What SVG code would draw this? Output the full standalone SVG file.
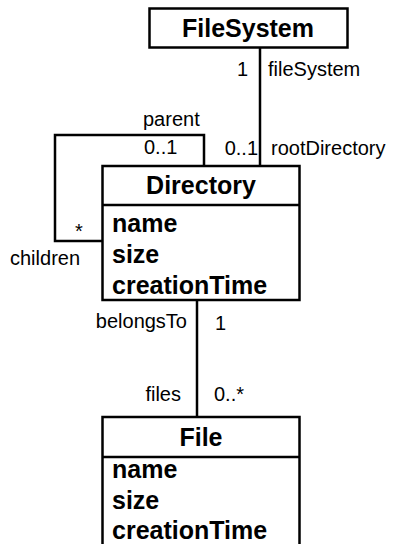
<svg xmlns="http://www.w3.org/2000/svg" width="394" height="544" viewBox="0 0 394 544">
  <style>
    .box { fill: #ffffff; stroke: #000000; stroke-width: 2.5; }
    .line { fill: none; stroke: #000000; stroke-width: 2.5; }
    .title { font-family: "Liberation Sans", Arial, sans-serif; font-weight: bold; font-size: 25px; text-anchor: middle; fill: #000; }
    .attr { font-family: "Liberation Sans", Arial, sans-serif; font-weight: bold; font-size: 25px; fill: #000; }
    .lbl { font-family: "Liberation Sans", Arial, sans-serif; font-size: 20px; fill: #000; }
    .end { text-anchor: end; }
  </style>

  <!-- associations -->
  <g id="connectors">
    <line class="line" x1="260" y1="47" x2="260" y2="166"/>
    <polyline class="line" points="204,166 204,135 55,135 55,241 102,241"/>
    <line class="line" x1="197" y1="300" x2="197" y2="417"/>

    <text class="lbl end" x="248" y="76">1</text>
    <text class="lbl" x="268" y="76">fileSystem</text>
    <text class="lbl end" x="258" y="155">0..1</text>
    <text class="lbl" x="271" y="155">rootDirectory</text>

    <text class="lbl" x="143" y="126">parent</text>
    <text class="lbl" x="144" y="154">0..1</text>
    <text class="lbl" x="75" y="238">*</text>
    <text class="lbl" x="10" y="265">children</text>

    <text class="lbl end" x="187" y="328">belongsTo</text>
    <text class="lbl" x="215" y="330">1</text>
    <text class="lbl end" x="181" y="401">files</text>
    <text class="lbl" x="214" y="401">0..*</text>
  </g>

  <g id="FileSystem">
    <rect class="box" x="149.5" y="8.5" width="198" height="39"/>
    <text class="title" x="248" y="37">FileSystem</text>
  </g>

  <g id="Directory">
    <rect class="box" x="102.5" y="166" width="197" height="134"/>
    <line class="line" x1="102.5" y1="205" x2="299.5" y2="205"/>
    <text class="title" x="201" y="194">Directory</text>
    <text class="attr" x="112" y="232">name</text>
    <text class="attr" x="112" y="263">size</text>
    <text class="attr" x="112" y="294">creationTime</text>
  </g>

  <g id="File">
    <rect class="box" x="102.5" y="417" width="197" height="140"/>
    <line class="line" x1="102.5" y1="457" x2="299.5" y2="457"/>
    <text class="title" x="201" y="446">File</text>
    <text class="attr" x="112" y="478">name</text>
    <text class="attr" x="112" y="509">size</text>
    <text class="attr" x="112" y="539">creationTime</text>
  </g>
</svg>
